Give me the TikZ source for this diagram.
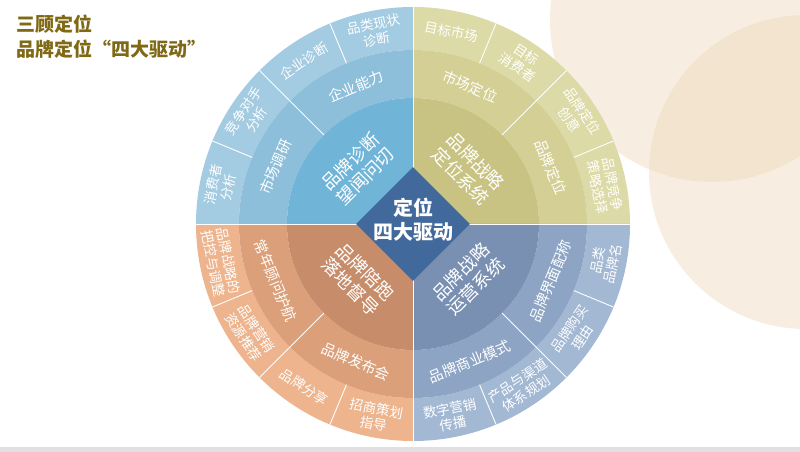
\documentclass[tikz,border=0pt]{standalone}
\usepackage{fontspec}
\setmainfont{Noto Sans CJK SC}
\usepackage{tikz}
\usepackage{xcolor}
\usetikzlibrary{shapes.geometric}
\definecolor{blu-out}{HTML}{A3CBE1}
\definecolor{blu-mid}{HTML}{8DBFDB}
\definecolor{blu-in}{HTML}{70B5D8}
\definecolor{yel-out}{HTML}{DCDAA6}
\definecolor{yel-mid}{HTML}{D4CF94}
\definecolor{yel-in}{HTML}{C8C283}
\definecolor{ora-out}{HTML}{EEB48D}
\definecolor{ora-mid}{HTML}{DBA07A}
\definecolor{ora-in}{HTML}{C78D6B}
\definecolor{gry-out}{HTML}{A2B8D3}
\definecolor{gry-mid}{HTML}{8DA4C4}
\definecolor{gry-in}{HTML}{7990B2}
\definecolor{hub}{HTML}{41699B}
\definecolor{title}{HTML}{7F6914}
\definecolor{halo}{HTML}{ECD6B4}
\tikzset{
    ring-text/.style = {text=white, align=center, inner sep=0pt, font=\fontsize{13.5}{15.5}\selectfont},
    mid-text/.style = {text=white, align=center, inner sep=0pt, font=\fontsize{14.5}{17}\selectfont},
    core-text/.style = {text=white, align=center, inner sep=0pt, font=\fontsize{18}{21}\selectfont},
    hub-box/.style = {diamond, fill=hub, minimum size=114pt, inner sep=0pt},
    hub-text/.style = {text=white, align=center, font=\bfseries\fontsize{20}{24}\selectfont},
    title-text/.style = {text=title, anchor=west, inner sep=0pt, font=\bfseries\fontsize{19}{22}\selectfont},
    split-line/.style = {white, line width=0.9pt},
}
\newcommand{\wedgefill}[5]{%
    \fill[#5] (#1:#3pt) arc[start angle=#1, end angle=#2, radius=#3pt]
        -- (#2:#4pt) arc[start angle=#2, end angle=#1, radius=#4pt] -- cycle;}

\begin{document}
\begin{tikzpicture}[x=1pt, y=1pt]
\useasboundingbox (0,0) rectangle (800,452);
\clip (0,0) rectangle (800,452);
\fill[white] (0,0) rectangle (800,452);
\fill[halo, opacity=0.4] (712,432) circle[radius=162pt];
\fill[halo, opacity=0.4] (806,280) circle[radius=157pt];
\fill[black!12] (0,0) rectangle (800,5);

\node[title-text] (title1) at (16,428) {三顾定位};
\node[title-text] (title2) at (16,403) {品牌定位“四大驱动”};

\begin{scope}[shift={(413,228)}]
\foreach \s/\e/\co in {90/180/blu, 0/90/yel, 180/270/ora, 270/360/gry} {
    \wedgefill{\s}{\e}{174}{217}{\co-out}
    \wedgefill{\s}{\e}{126}{174}{\co-mid}
    \wedgefill{\s}{\e}{0.1}{126}{\co-in}
}
\foreach \a in {0,90,180,270}
    \draw[split-line] (0,0) -- (\a:217pt);
\foreach \a in {45,135,225,315}
    \draw[split-line] (\a:126pt) -- (\a:217pt);
\foreach \a in {22.5,67.5,112.5,157.5,202.5,247.5,292.5,337.5}
    \draw[split-line] (\a:174pt) -- (\a:217pt);

\foreach \a/\t [count=\i] in {101.25/{品类现状\\诊断}, 123.75/企业诊断, 146.25/{竞争对手\\分析},
        168.75/{消费者\\分析}, 78.75/目标市场, 56.25/{目标\\消费者},
        33.75/{品牌定位\\创意}, 11.25/{品牌竞争\\策略选择}}
    \node[ring-text, rotate=\a-90] (top\i) at (\a:196pt) {\t};
\foreach \a/\t [count=\i] in {191.25/{品牌战略的\\把控与调整}, 213.75/{品牌营销\\资源推荐},
        236.25/品牌分享, 258.75/{招商策划\\指导}, 281.25/{数字营销\\传播},
        303.75/{产品与渠道\\体系规划}, 326.25/{品牌购买\\理由}, 348.75/{品类\\品牌名}}
    \node[ring-text, rotate=\a+90] (bot\i) at (\a:196pt) {\t};

\foreach \a/\t [count=\i] in {112.5/企业能力, 157.5/市场调研, 67.5/市场定位, 22.5/品牌定位}
    \node[mid-text, rotate=\a-90] (mtop\i) at (\a:149pt) {\t};
\foreach \a/\t [count=\i] in {202.5/常年顾问护航, 247.5/品牌发布会, 292.5/品牌商业模式, 337.5/品牌界面配称}
    \node[mid-text, rotate=\a+90] (mbot\i) at (\a:149pt) {\t};

\node[core-text, rotate=45] (diag) at (135:78pt) {品牌诊断\\望闻问切};
\node[core-text, rotate=-45] (posi) at (45:78pt) {品牌战略\\定位系统};
\node[core-text, rotate=-45] (land) at (225:78pt) {品牌陪跑\\落地督导};
\node[core-text, rotate=45] (oper) at (315:78pt) {品牌战略\\运营系统};

\node[hub-box] (hub) at (0,0) {};
\node[hub-text] (hubtext) at ([yshift=4pt]hub.center) {定位\\四大驱动};
\end{scope}
\end{tikzpicture}
\end{document}
